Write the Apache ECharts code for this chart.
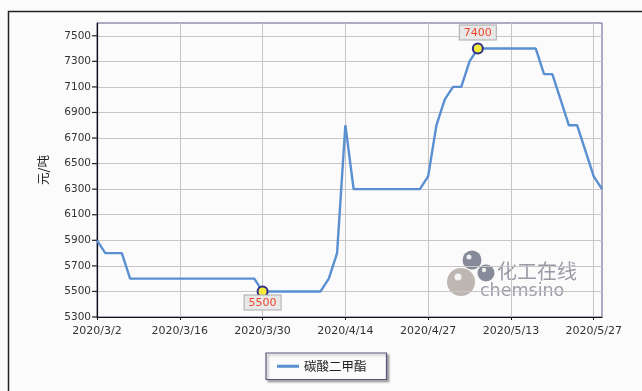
<!DOCTYPE html>
<html>
<head>
<meta charset="utf-8">
<script src="https://cdn.jsdelivr.net/npm/echarts@6/dist/echarts.min.js"></script>
<style>
html,body{margin:0;padding:0;background:#fbfbfb;}
#c{width:642px;height:391px;}
</style>
</head>
<body>
<div id="c"></div>
<script>
// Trading dates (category axis)
const dates = [
  '2020/3/2','2020/3/3','2020/3/4','2020/3/5','2020/3/6','2020/3/9','2020/3/10','2020/3/11','2020/3/12','2020/3/13',
  '2020/3/16','2020/3/17','2020/3/18','2020/3/19','2020/3/20','2020/3/23','2020/3/24','2020/3/25','2020/3/26','2020/3/27',
  '2020/3/30','2020/3/31','2020/4/1','2020/4/2','2020/4/3','2020/4/7','2020/4/8','2020/4/9','2020/4/10','2020/4/13',
  '2020/4/14','2020/4/15','2020/4/16','2020/4/17','2020/4/20','2020/4/21','2020/4/22','2020/4/23','2020/4/24','2020/4/26',
  '2020/4/27','2020/4/28','2020/4/29','2020/4/30','2020/5/6','2020/5/7','2020/5/8','2020/5/9','2020/5/11','2020/5/12',
  '2020/5/13','2020/5/14','2020/5/15','2020/5/18','2020/5/19','2020/5/20','2020/5/21','2020/5/22','2020/5/25','2020/5/26',
  '2020/5/27','2020/5/28'
];
// 碳酸二甲酯 price (元/吨)
const prices = [
  5900,5800,5800,5800,5600,5600,5600,5600,5600,5600,
  5600,5600,5600,5600,5600,5600,5600,5600,5600,5600,
  5500,5500,5500,5500,5500,5500,5500,5500,5600,5800,
  6800,6300,6300,6300,6300,6300,6300,6300,6300,6300,
  6400,6800,7000,7100,7100,7300,7400,7400,7400,7400,
  7400,7400,7400,7400,7200,7200,7000,6800,6800,6600,
  6400,6300
];
const seriesName = '碳酸二甲酯';
const yAxisName = '元/吨';
const yMin = 5300, yMax = 7600, yStep = 100, yLabelStep = 200, yLabelMax = 7500;

const chart = echarts.init(document.getElementById('c'), null, {renderer: 'canvas'});
chart.setOption({
  backgroundColor: '#fbfbfb',
  animation: false,
  grid: {left: 97, right: 40, top: 23, bottom: 74, show: true, borderColor: '#5a5a8c', borderWidth: 1, backgroundColor: 'transparent'},
  legend: {
    data: [seriesName],
    left: 266, top: 353,
    padding: [7, 20, 7, 11],
    itemWidth: 22, itemHeight: 3,
    icon: 'rect',
    backgroundColor: '#fcfcfc',
    borderColor: '#55557a', borderWidth: 1.2,
    shadowColor: 'rgba(0,0,0,0.3)', shadowBlur: 2, shadowOffsetX: 2, shadowOffsetY: 2,
    textStyle: {fontFamily: 'Noto Sans CJK SC', fontSize: 12.5, color: '#222'}
  },
  xAxis: {
    type: 'category',
    data: dates,
    boundaryGap: false,
    axisLine: {lineStyle: {color: '#111', width: 1.2}},
    axisTick: {interval: 9, length: 3, lineStyle: {color: '#111'}},
    axisLabel: {interval: 9, fontFamily: 'DejaVu Sans', fontSize: 11, color: '#333', margin: 9},
    splitLine: {show: true, interval: 9, lineStyle: {color: '#cbc4c4', width: 1}}
  },
  yAxis: {
    type: 'value',
    min: yMin, max: yMax, interval: yStep,
    name: yAxisName,
    nameLocation: 'middle',
    nameRotate: 90,
    nameGap: 47,
    nameTextStyle: {fontFamily: 'Noto Sans CJK SC', fontSize: 12.5, color: '#222'},
    axisLine: {show: true, lineStyle: {color: '#111', width: 1.2}},
    axisTick: {show: false},
    axisLabel: {
      margin: 0,
      formatter: function (v) {
        if ((v - yMin) % yLabelStep === 0 && v <= yLabelMax) return '{n|' + v + '}{g|}{t|}';
        return '';
      },
      rich: {
        n: {fontFamily: 'DejaVu Sans', fontSize: 10.5, color: '#333'},
        g: {width: 1},
        t: {width: 5, height: 1.2, backgroundColor: '#222'}
      }
    },
    splitLine: {show: true, lineStyle: {color: ['#cbc4c4', 'rgba(0,0,0,0)'], width: 1.2}}
  },
  series: [{
    name: seriesName,
    type: 'line',
    data: prices,
    showSymbol: false,
    symbol: 'none',
    lineStyle: {color: '#5a8fd2', width: 2.4},
    itemStyle: {color: '#5a8fd2'},
    markPoint: {
      symbol: 'circle',
      symbolSize: 10,
      itemStyle: {color: '#f3ea3a', borderColor: '#2c2c8a', borderWidth: 2},
      label: {
        formatter: '{c}',
        fontFamily: 'DejaVu Sans', fontSize: 11, color: '#f0452a',
        backgroundColor: '#e8e8e8', borderColor: '#aaa', borderWidth: 1,
        padding: [2, 4, 1, 4]
      },
      data: [
        {type: 'max', label: {position: 'top', distance: 3}},
        {type: 'min', label: {position: 'bottom', distance: -2}}
      ]
    }
  }],
  graphic: [
    {type: 'rect', silent: true, z: 100, shape: {x: 8.5, y: 11.5, width: 700, height: 500}, style: {fill: 'none', stroke: '#222', lineWidth: 1.5}},
    {type: 'group', silent: true, z: 5, children: [
      {type: 'circle', shape: {cx: 461, cy: 282, r: 14}, style: {fill: 'rgba(170,160,152,0.75)'}},
      {type: 'circle', shape: {cx: 458, cy: 277, r: 3.5}, style: {fill: 'rgba(255,255,255,0.85)'}},
      {type: 'circle', shape: {cx: 472, cy: 260, r: 9.5}, style: {fill: 'rgba(95,100,120,0.75)'}},
      {type: 'circle', shape: {cx: 469, cy: 257, r: 2.5}, style: {fill: 'rgba(255,255,255,0.85)'}},
      {type: 'circle', shape: {cx: 486, cy: 273, r: 8.5}, style: {fill: 'rgba(95,100,120,0.75)'}},
      {type: 'circle', shape: {cx: 484, cy: 270, r: 2.2}, style: {fill: 'rgba(255,255,255,0.85)'}},
      {type: 'text', style: {x: 497, y: 271, text: '化工在线', fontFamily: 'Noto Sans CJK SC', fontSize: 20, fill: 'rgba(130,130,145,0.8)', verticalAlign: 'middle'}},
      {type: 'text', style: {x: 480, y: 291, text: 'chemsino', fontFamily: 'DejaVu Sans', fontSize: 17.5, fill: 'rgba(125,125,140,0.75)', verticalAlign: 'middle'}}
    ]}
  ]
});
</script>
</body>
</html>
